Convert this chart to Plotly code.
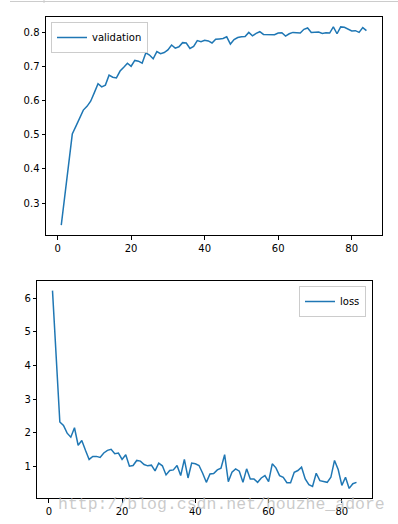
import plotly.graph_objects as go

epochs = list(range(1, 85))

validation = [
    0.236, 0.330, 0.427, 0.502, 0.525, 0.548, 0.572, 0.583, 0.598, 0.623,
    0.649, 0.640, 0.645, 0.674, 0.668, 0.666, 0.686, 0.697, 0.709, 0.700,
    0.717, 0.715, 0.709, 0.739, 0.733, 0.722, 0.743, 0.737, 0.740, 0.748,
    0.762, 0.753, 0.757, 0.769, 0.768, 0.752, 0.758, 0.775, 0.772, 0.776,
    0.774, 0.768, 0.779, 0.780, 0.781, 0.786, 0.765, 0.778, 0.784, 0.786,
    0.787, 0.799, 0.789, 0.796, 0.801, 0.793, 0.792, 0.792, 0.792, 0.797,
    0.798, 0.788, 0.795, 0.799, 0.797, 0.797, 0.808, 0.812, 0.799, 0.800,
    0.800, 0.796, 0.798, 0.797, 0.815, 0.795, 0.815, 0.814, 0.808, 0.803,
    0.804, 0.799, 0.813, 0.804,
]

loss = [
    6.22, 4.10, 2.32, 2.22, 1.99, 1.87, 2.15, 1.63, 1.77, 1.48,
    1.21, 1.30, 1.30, 1.27, 1.40, 1.48, 1.51, 1.38, 1.40, 1.21,
    1.35, 1.01, 1.03, 1.18, 1.16, 1.06, 1.02, 1.04, 0.87, 1.10,
    1.02, 0.75, 0.88, 0.90, 1.03, 0.73, 1.21, 0.66, 1.10, 1.08,
    1.03, 0.80, 0.53, 0.78, 0.79, 0.90, 0.95, 1.35, 0.55, 0.83,
    0.93, 0.86, 0.53, 0.93, 0.63, 0.63, 0.53, 0.66, 0.73, 0.55,
    1.08, 0.96, 0.73, 0.68, 0.52, 0.52, 0.83, 0.88, 0.98, 0.63,
    0.46, 0.41, 0.80, 0.58, 0.55, 0.53, 0.68, 1.18, 0.91, 0.44,
    0.68, 0.35, 0.49, 0.53,
]

x_ticks = [0, 20, 40, 60, 80]
val_ticks = [0.3, 0.4, 0.5, 0.6, 0.7, 0.8]
val_labels = ["0.3", "0.4", "0.5", "0.6", "0.7", "0.8"]
loss_ticks = [1, 2, 3, 4, 5, 6]

W, H = 398, 524
C0 = "#1f77b4"


def rng(v):
    lo, hi = min(v), max(v)
    m = (hi - lo) * 0.05
    return [lo - m, hi + m]


fig = go.Figure()
fig.add_trace(go.Scatter(x=epochs, y=validation, mode="lines", name="validation",
                         line=dict(color=C0, width=1.5), xaxis="x", yaxis="y",
                         legend="legend"))
fig.add_trace(go.Scatter(x=epochs, y=loss, mode="lines", name="loss",
                         line=dict(color=C0, width=1.5), xaxis="x2", yaxis="y2",
                         legend="legend2"))

ax_common = dict(showline=True, mirror=True, linecolor="black", linewidth=1,
                 ticks="outside", ticklen=3.5, tickwidth=1, tickcolor="black",
                 showgrid=False, zeroline=False,
                 tickfont=dict(family="DejaVu Sans", size=10, color="black"))

fig.update_layout(
    width=W, height=H,
    margin=dict(l=0, r=0, t=0, b=0),
    paper_bgcolor="white", plot_bgcolor="white",
    xaxis=dict(domain=[46 / W, 381.7 / W], anchor="y", range=rng(epochs),
               tickvals=x_ticks, **ax_common),
    yaxis=dict(domain=[1 - 235 / H, 1 - 17 / H], anchor="x", range=rng(validation),
               tickvals=val_ticks, ticktext=val_labels, **ax_common),
    xaxis2=dict(domain=[37.3 / W, 371.7 / W], anchor="y2", range=rng(epochs),
                tickvals=x_ticks, **ax_common),
    yaxis2=dict(domain=[1 - 498.3 / H, 1 - 280.7 / H], anchor="x2", range=rng(loss),
                tickvals=loss_ticks, **ax_common),
    legend=dict(x=51 / W, y=1 - 22 / H, xanchor="left", yanchor="top",
                bgcolor="rgba(255,255,255,0.8)", bordercolor="#cccccc", borderwidth=1,
                font=dict(family="DejaVu Sans", size=10, color="black"),
                itemwidth=30, tracegroupgap=0),
    legend2=dict(x=366 / W, y=1 - 286 / H, xanchor="right", yanchor="top",
                 bgcolor="rgba(255,255,255,0.8)", bordercolor="#cccccc", borderwidth=1,
                 font=dict(family="DejaVu Sans", size=10, color="black"),
                 itemwidth=30, tracegroupgap=0),
    showlegend=True,
)

# top gray separator line from the screenshot
fig.add_shape(type="line", xref="paper", yref="paper",
              x0=10 / W, x1=1, y0=1 - 1.5 / H, y1=1 - 1.5 / H,
              line=dict(color="#cccccc", width=1))
fig.add_shape(type="line", xref="paper", yref="paper",
              x0=44 / W, x1=44 / W, y0=1, y1=1 - 3 / H,
              line=dict(color="#cccccc", width=1))

# watermark
fig.add_annotation(text="http://blog.csdn.net/houzhe_adore", xref="paper", yref="paper",
                   x=221 / W, y=1 - 504 / H, xanchor="center", yanchor="middle",
                   showarrow=False,
                   font=dict(family="Liberation Mono", size=16.5, color="rgba(185,185,185,0.75)"))

fig.write_html("out.html",
               config={"displayModeBar": False},
               post_script="document.body.style.margin='0';document.body.style.overflow='hidden';")
